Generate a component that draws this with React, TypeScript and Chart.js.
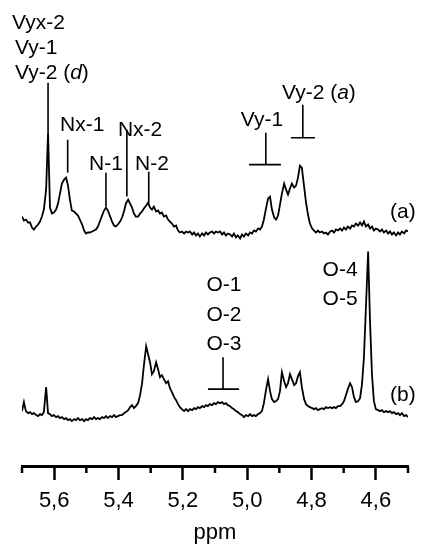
import React, { useEffect, useRef } from "react";
import { Chart, registerables } from "chart.js";

Chart.register(...registerables);

// ---- data ----
const PPM = [
  5.700, 5.694, 5.688, 5.681, 5.675, 5.669, 5.663, 5.656, 5.650, 5.644,
  5.638, 5.632, 5.625, 5.619, 5.613, 5.607, 5.601, 5.594, 5.588, 5.582,
  5.576, 5.569, 5.563, 5.557, 5.551, 5.545, 5.538, 5.532, 5.526, 5.520,
  5.513, 5.507, 5.501, 5.495, 5.489, 5.482, 5.476, 5.470, 5.464, 5.458,
  5.451, 5.445, 5.439, 5.433, 5.426, 5.420, 5.414, 5.408, 5.402, 5.395,
  5.389, 5.383, 5.377, 5.370, 5.364, 5.358, 5.352, 5.346, 5.339, 5.333,
  5.327, 5.321, 5.314, 5.308, 5.302, 5.296, 5.290, 5.283, 5.277, 5.271,
  5.265, 5.259, 5.252, 5.246, 5.240, 5.234, 5.227, 5.221, 5.215, 5.209,
  5.203, 5.196, 5.190, 5.184, 5.178, 5.171, 5.165, 5.159, 5.153, 5.147,
  5.140, 5.134, 5.128, 5.122, 5.116, 5.109, 5.103, 5.097, 5.091, 5.084,
  5.078, 5.072, 5.066, 5.060, 5.053, 5.047, 5.041, 5.035, 5.029, 5.022,
  5.016, 5.010, 5.004, 4.997, 4.991, 4.985, 4.979, 4.973, 4.966, 4.960,
  4.954, 4.948, 4.941, 4.935, 4.929, 4.923, 4.916, 4.910, 4.904, 4.898,
  4.892, 4.885, 4.879, 4.873, 4.867, 4.861, 4.854, 4.848, 4.842, 4.836,
  4.830, 4.823, 4.817, 4.811, 4.805, 4.798, 4.792, 4.786, 4.780, 4.774,
  4.767, 4.761, 4.755, 4.749, 4.742, 4.736, 4.730, 4.724, 4.718, 4.711,
  4.705, 4.699, 4.693, 4.687, 4.680, 4.674, 4.668, 4.662, 4.655, 4.649,
  4.643, 4.637, 4.631, 4.624, 4.618, 4.612, 4.606, 4.600, 4.593, 4.587,
  4.581, 4.575, 4.568, 4.562, 4.556, 4.550, 4.544, 4.537, 4.531, 4.525,
  4.519, 4.512, 4.506, 4.500,
];

const SPEC_A = [
  15, 11, 12, 9, 9, 4, 2, 5, 7, 10,
  15, 22, 42, 99, 24, 18, 19, 22, 28, 38,
  48, 52, 54, 46, 32, 21, 20, 18, 16, 12,
  7, 1, -2, -1, -1, 0, 1, 2, 5, 10,
  16, 21, 24, 21, 15, 10, 6, 5, 7, 10,
  14, 20, 28, 32, 28, 24, 18, 15, 15, 18,
  20, 23, 26, 29, 24, 22, 25, 20, 21, 18,
  19, 15, 16, 12, 10, 8, 5, 6, 1, -1,
  0, -2, 0, -1, 0, -3, -1, -4, -2, -5,
  -2, -4, -1, -3, -1, 0, -2, 0, -1, 0,
  -3, -1, -4, -2, -3, -5, -2, -6, -4, -7,
  -3, -5, -2, -4, -1, -2, 1, 0, 3, 2,
  5, 12, 24, 33, 35, 22, 14, 12, 16, 27,
  38, 48, 42, 37, 43, 48, 44, 46, 54, 66,
  64, 45, 29, 17, 8, 3, 1, -1, 1, -1,
  0, -2, -1, -3, 0, 1, -1, 2, 1, 3,
  1, 4, 2, 5, 3, 6, 5, 8, 6, 9,
  6, 10, 5, 7, 3, 5, 1, 3, 2, 0,
  2, -1, 1, -2, 0, -3, -1, -4, -1, -3,
  0, -2, 1, 0,
];

const SPEC_B = [
  5, 14, 5, 3, 4, 2, 3, 1, 0, 2,
  1, 4, 29, 3, 2, 0, 1, -1, 0, -2,
  -1, -3, -2, -4, -3, -5, -3, -4, -2, -4,
  -3, -5, -3, -4, -2, -3, -1, -3, -2, -3,
  -1, -2, 0, -2, 0, -1, 1, -1, 0, 1,
  1, 3, 4, 6, 9, 11, 8, 10, 13, 21,
  32, 51, 70, 62, 54, 42, 45, 54, 47, 39,
  41, 37, 33, 35, 28, 24, 19, 16, 12, 9,
  7, 5, 7, 5, 7, 6, 8, 7, 9, 8,
  10, 9, 11, 10, 12, 11, 13, 12, 14, 13,
  14, 12, 13, 11, 10, 8, 7, 5, 4, 2,
  1, -1, 1, 0, 2, 0, 1, 0, 2, 3,
  5, 13, 27, 37, 25, 17, 14, 15, 17, 25,
  44, 35, 29, 33, 42, 37, 31, 33, 40, 44,
  29, 17, 12, 10, 9, 8, 7, 8, 6, 7,
  8, 7, 9, 8, 9, 8, 9, 8, 10, 10,
  12, 15, 21, 27, 33, 29, 19, 14, 15, 18,
  32, 59, 107, 165, 94, 42, 15, 7, 6, 5,
  6, 4, 5, 4, 5, 3, 4, 2, 3, 1,
  3, 0, 1, -1,
];

// vertical stacking offsets of the two traces (intensity units)
const OFFSET_A = 235;
const OFFSET_B = 50;
const Y_MIN = 0;
const Y_MAX = 467;

const X_MIN = 4.5;
const X_MAX = 5.7;
const MAJOR_TICKS = [5.6, 5.4, 5.2, 5.0, 4.8, 4.6];
const TICK_LABELS = ["5,6", "5,4", "5,2", "5,0", "4,8", "4,6"];
const MINOR_TICKS = [5.7, 5.5, 5.3, 5.1, 4.9, 4.7, 4.5];
const AXIS_TITLE = "ppm";

// assignment sticks on trace (a): ppm, from, to (intensity above baseline)
const STICK_PPM = [5.619, 5.558, 5.439, 5.374, 5.306];
const STICK_FROM = [99, 59, 25, 35, 29];
const STICK_TO = [149, 92, 59, 102, 60];

// T-markers: trace, ppm of stem, stem top, bar level, bar left/right ppm
const TEE_TRACE = ["a", "a", "b"];
const TEE_PPM = [4.942, 4.827, 5.075];
const TEE_TOP = [99, 127, 59];
const TEE_BAR = [67, 94, 27];
const TEE_LEFT = [4.994, 4.864, 5.122];
const TEE_RIGHT = [4.895, 4.789, 5.025];

// labels (text with _italic_ parts), trace, ppm anchor, baseline intensity, alignment
const LABEL_TEXT = [
  "Vyx-2", "Vy-1", "Vy-2 (_d_)", "Nx-1", "Nx-2", "N-1", "N-2",
  "Vy-1", "Vy-2 (_a_)", "(a)",
  "O-1", "O-2", "O-3", "O-4", "O-5", "(b)",
];
const LABEL_TRACE = ["a", "a", "a", "a", "a", "a", "a", "a", "a", "a", "b", "b", "b", "b", "b", "b"];
const LABEL_PPM = [5.731, 5.722, 5.722, 5.513, 5.333, 5.439, 5.296, 4.954, 4.777, 4.516, 5.072, 5.072, 5.072, 4.711, 4.711, 4.516];
const LABEL_Y = [203, 178, 153, 101, 96, 62, 62, 106, 133, 14, 125, 95, 66, 140, 111, 15];
const LABEL_ALIGN = ["left", "left", "left", "center", "center", "center", "center", "center", "center", "center", "center", "center", "center", "center", "center", "center"];

const FONT = 'Arial, "Liberation Sans", Helvetica, sans-serif';
const INK = "#000";

function drawRich(ctx: CanvasRenderingContext2D, text: string, x: number, y: number, align: string, size: number) {
  const parts = text.split("_");
  const fonts = parts.map((_, i) => `${i % 2 === 1 ? "italic " : ""}${size}px ${FONT}`);
  let total = 0;
  const widths = parts.map((p, i) => {
    ctx.font = fonts[i];
    const w = ctx.measureText(p).width;
    total += w;
    return w;
  });
  let cx = align === "left" ? x : x - total / 2;
  ctx.textAlign = "left";
  ctx.textBaseline = "alphabetic";
  parts.forEach((p, i) => {
    ctx.font = fonts[i];
    ctx.fillText(p, cx, y);
    cx += widths[i];
  });
}

const annotationPlugin = {
  id: "nmrAnnotations",
  afterDraw(chart: any) {
    const { ctx } = chart;
    const xs = chart.scales.x;
    const ys = chart.scales.y;
    const off = (t: string) => (t === "a" ? OFFSET_A : OFFSET_B);
    ctx.save();
    ctx.strokeStyle = INK;
    ctx.fillStyle = INK;
    ctx.lineWidth = 1.6;
    ctx.lineCap = "butt";
    // sticks
    STICK_PPM.forEach((p, i) => {
      const px = xs.getPixelForValue(p);
      ctx.beginPath();
      ctx.moveTo(px, ys.getPixelForValue(OFFSET_A + STICK_FROM[i]));
      ctx.lineTo(px, ys.getPixelForValue(OFFSET_A + STICK_TO[i]));
      ctx.stroke();
    });
    // tees
    TEE_PPM.forEach((p, i) => {
      const o = off(TEE_TRACE[i]);
      const px = xs.getPixelForValue(p);
      const yb = ys.getPixelForValue(o + TEE_BAR[i]);
      ctx.beginPath();
      ctx.moveTo(px, ys.getPixelForValue(o + TEE_TOP[i]));
      ctx.lineTo(px, yb);
      ctx.moveTo(xs.getPixelForValue(TEE_LEFT[i]), yb);
      ctx.lineTo(xs.getPixelForValue(TEE_RIGHT[i]), yb);
      ctx.stroke();
    });
    // minor ticks
    ctx.lineWidth = 2.5;
    MINOR_TICKS.forEach((v) => {
      const px = xs.getPixelForValue(v);
      ctx.beginPath();
      ctx.moveTo(px, xs.top + 1);
      ctx.lineTo(px, xs.top + 7);
      ctx.stroke();
    });
    // labels
    LABEL_TEXT.forEach((t, i) => {
      const px = xs.getPixelForValue(LABEL_PPM[i]);
      const py = ys.getPixelForValue(off(LABEL_TRACE[i]) + LABEL_Y[i]);
      drawRich(ctx, t, px, py, LABEL_ALIGN[i], 21);
    });
    ctx.restore();
  },
};

export default function App() {
  const ref = useRef<HTMLCanvasElement>(null);
  useEffect(() => {
    const canvas = ref.current;
    if (!canvas) return;
    const traceA = PPM.map((p, i) => ({ x: p, y: OFFSET_A + SPEC_A[i] }));
    const traceB = PPM.map((p, i) => ({ x: p, y: OFFSET_B + SPEC_B[i] }));
    const chart = new Chart(canvas, {
      type: "line",
      data: {
        datasets: [
          { label: "(a)", data: traceA, borderColor: INK, borderWidth: 1.8, pointRadius: 0, tension: 0, fill: false },
          { label: "(b)", data: traceB, borderColor: INK, borderWidth: 1.8, pointRadius: 0, tension: 0, fill: false },
        ],
      },
      options: {
        responsive: false,
        animation: false,
        events: [],
        layout: { padding: { left: 22, right: 18, top: 0, bottom: 6 } },
        plugins: { legend: { display: false }, tooltip: { enabled: false } },
        scales: {
          x: {
            type: "linear",
            reverse: true,
            min: X_MIN,
            max: X_MAX,
            afterBuildTicks: (axis: any) => {
              axis.ticks = MAJOR_TICKS.map((v) => ({ value: v }));
            },
            border: { display: true, color: INK, width: 3 },
            grid: {
              display: true,
              drawOnChartArea: false,
              drawTicks: true,
              tickLength: 14,
              tickWidth: 2.5,
              tickColor: INK,
              color: INK,
            },
            ticks: {
              color: INK,
              padding: 10,
              maxRotation: 0,
              autoSkip: false,
              font: { family: FONT, size: 22, lineHeight: 1 },
              callback: (v: any) => TICK_LABELS[MAJOR_TICKS.indexOf(Number(v))] ?? "",
            },
            title: {
              display: true,
              text: AXIS_TITLE,
              color: INK,
              font: { family: FONT, size: 22, lineHeight: 1 },
              padding: { top: 0, bottom: 0 },
            },
          },
          y: { display: false, min: Y_MIN, max: Y_MAX },
        },
      },
      plugins: [annotationPlugin],
    } as any);
    return () => chart.destroy();
  }, []);
  return (
    <div style={{ position: "absolute", left: 0, top: 0, width: 426, height: 550, background: "#fff" }}>
      <canvas ref={ref} width={426} height={550} style={{ display: "block", width: 426, height: 550 }} />
    </div>
  );
}
